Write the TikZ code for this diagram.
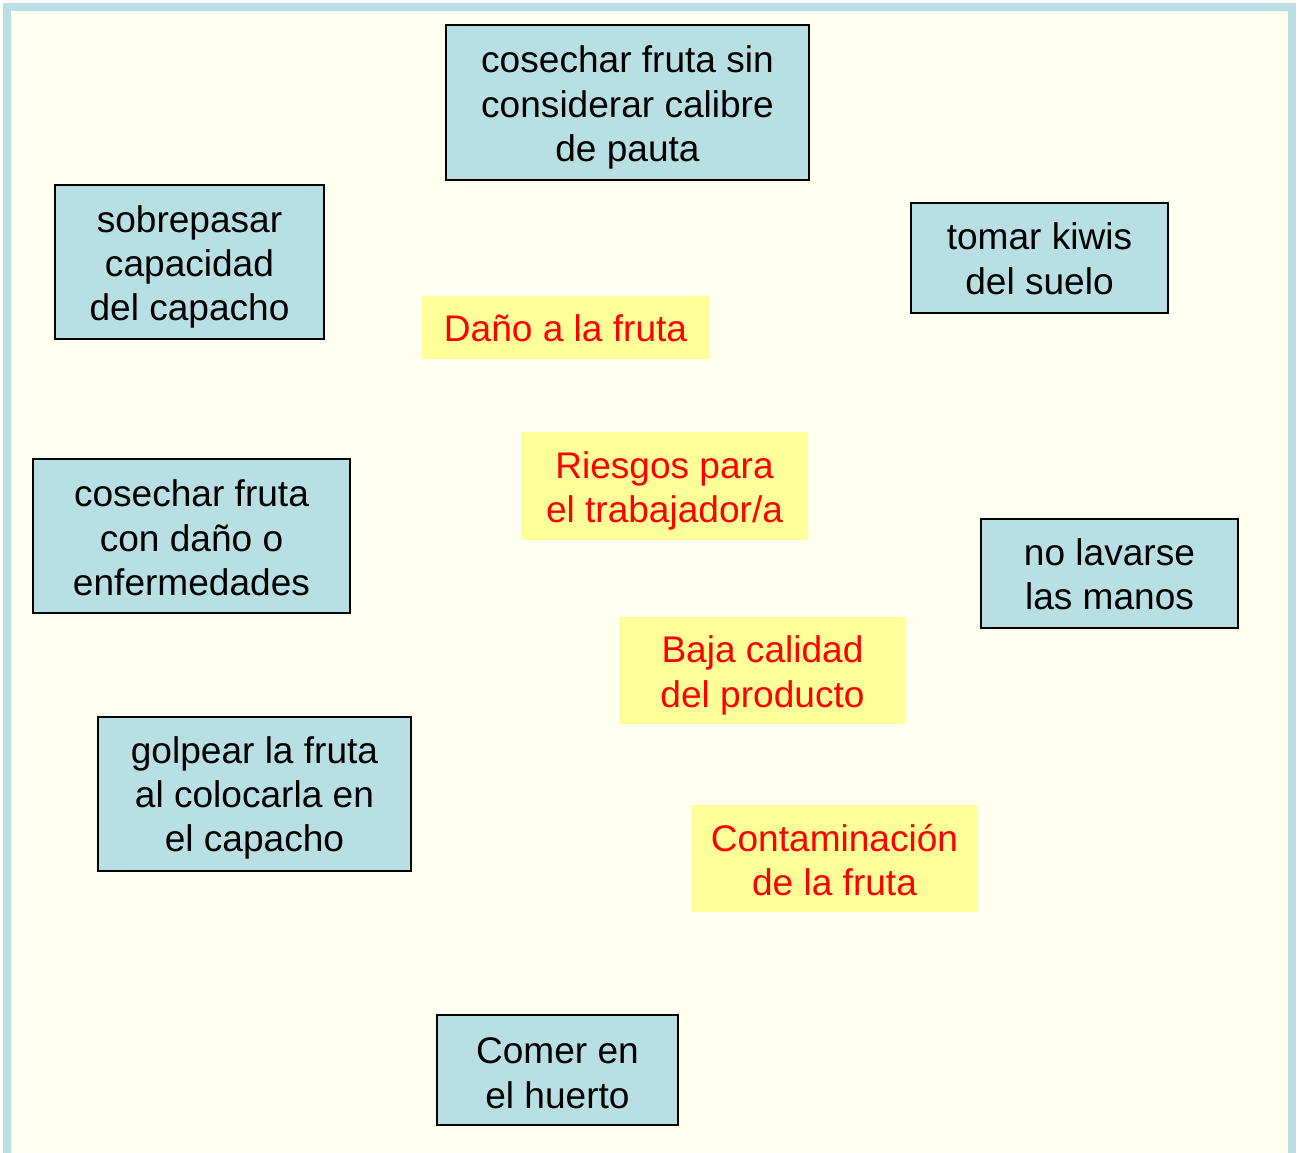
\documentclass[tikz,border=0pt]{standalone}
\usepackage{fontspec}
\setmainfont{Liberation Sans}
\definecolor{boxblue}{HTML}{B8DFE3}
\definecolor{ivory}{HTML}{FFFFF0}
\definecolor{noteyellow}{HTML}{FFFF99}
\definecolor{notered}{HTML}{FF0000}
\newcommand\txtdown[1]{\rule{0pt}{\dimexpr 15.2pt + 1.138pt*#1\relax}}
\tikzset{
  cause/.style={draw=black, line width=0.03cm, fill=boxblue, align=center, inner sep=0pt,
    font=\fontsize{21.1}{25.3}\selectfont, text=black},
  effect/.style={fill=noteyellow, draw=none, align=center, inner sep=0pt,
    font=\fontsize{21.1}{25.3}\selectfont, text=notered}
}
\begin{document}
\begin{tikzpicture}[x=0.02cm,y=-0.02cm]
\useasboundingbox (0,0) rectangle (1299,1153);
\clip (0,0) rectangle (1299,1153);
\fill[white] (0,0) rectangle (1299,1153);
\draw[draw=boxblue, fill=ivory, line width=0.16cm] (7,7) rectangle (1292,1157);

\node[cause, minimum width=7.26cm, minimum height=3.10cm] (n1) at (627.5,102.5) {\txtdown{5}cosechar fruta sin\\considerar calibre\\de pauta};
\node[cause, minimum width=5.38cm, minimum height=3.08cm] (n2) at (189.5,262) {\txtdown{5}sobrepasar\\capacidad\\del capacho};
\node[cause, minimum width=5.14cm, minimum height=2.20cm] (n3) at (1039.5,258) {\txtdown{1}tomar kiwis\\del suelo};
\node[cause, minimum width=6.34cm, minimum height=3.08cm] (n4) at (191.5,536) {\txtdown{2}cosechar fruta\\con daño o\\enfermedades};
\node[cause, minimum width=5.14cm, minimum height=2.18cm] (n5) at (1109.5,573.5) {\txtdown{1}no lavarse\\las manos};
\node[cause, minimum width=6.26cm, minimum height=3.08cm] (n6) at (254.5,794) {\txtdown{4}golpear la fruta\\al colocarla en\\el capacho};
\node[cause, minimum width=4.82cm, minimum height=2.20cm] (n7) at (557.5,1070) {\txtdown{3}Comer en\\el huerto};

\node[effect, minimum width=5.74cm, minimum height=1.26cm] (e1) at (565.5,327.5) {\txtdown{1}Daño a la fruta};
\node[effect, minimum width=5.74cm, minimum height=2.16cm] (e2) at (664.5,486) {\txtdown{5}Riesgos para\\el trabajador/a};
\node[effect, minimum width=5.74cm, minimum height=2.14cm] (e3) at (762.5,670.5) {\txtdown{5}Baja calidad\\del producto};
\node[effect, minimum width=5.74cm, minimum height=2.14cm] (e4) at (834.5,858.5) {\txtdown{2}Contaminación\\de la fruta};
\end{tikzpicture}
\end{document}
